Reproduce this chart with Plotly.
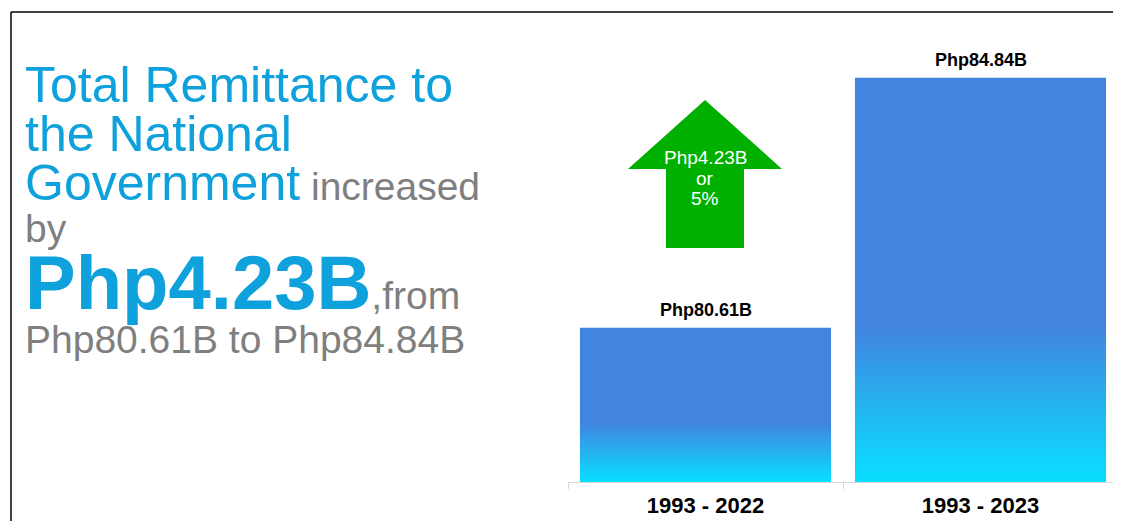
import plotly.graph_objects as go

# ---------------- data ----------------
categories = ["1993 - 2022", "1993 - 2023"]
remittance_b = [80.61, 84.84]          # Php billions
increase_b = 4.23
increase_pct = 5
axis_floor = 78.0
axis_ceiling = 85.48

# ---------------- style ----------------
BLUE = "#4185E0"
CYAN = "#08DFFF"
GREEN = "#00B000"
TITLE_BLUE = "#0EA1DC"
GRAY = "#7F7F7F"
AXIS_GRAY = "#D9D9D9"
FONT = "Liberation Sans, Arial, sans-serif"
BAR_W = 0.913

OFF = 8                      # page body margin
W, H = 1113, 513             # figure size
# plot area in page pixels: x 568..1118, y 40..482
L, T = 568 - OFF, 40 - OFF
R = W - (1118 - OFF)
B = H - (482 - OFF)
PW = W - L - R
PH = H - T - B


def px(x):
    """page pixel x -> paper"""
    return (x - OFF - L) / PW


def py(y):
    """page pixel y -> paper"""
    return (H - B - (y - OFF)) / PH


xs = list(range(len(categories)))

fig = go.Figure()

# base bars
fig.add_trace(go.Bar(
    x=xs, y=remittance_b, width=BAR_W,
    marker=dict(color=BLUE, line=dict(width=0)),
    hoverinfo="skip", showlegend=False,
))

# gradient overlay for each bar
for xi, v in zip(xs, remittance_b):
    x0, x1 = xi - BAR_W / 2, xi + BAR_W / 2
    fig.add_trace(go.Scatter(
        x=[x0, x1, x1, x0, x0], y=[axis_floor, axis_floor, v, v, axis_floor],
        fill="toself", mode="lines", line=dict(width=0),
        fillgradient=dict(type="vertical",
                          colorscale=[[0, CYAN], [0.38, BLUE], [1, BLUE]]),
        hoverinfo="skip", showlegend=False,
    ))

boundaries = [x - 0.5 for x in xs] + [xs[-1] + 0.5]

fig.update_xaxes(
    range=[xs[0] - 0.5, xs[-1] + 0.5],
    tickmode="array", tickvals=xs, ticktext=categories, ticks="",
    tickfont=dict(size=22, color="black", family=FONT, weight="bold"),
    ticklabelstandoff=4,
    showline=True, linecolor=AXIS_GRAY, linewidth=1,
    showgrid=False, zeroline=False,
    minor=dict(tickmode="array", tickvals=boundaries, ticks="outside",
               ticklen=6, tickcolor=AXIS_GRAY, tickwidth=1, showgrid=False),
)
fig.update_yaxes(range=[axis_floor, axis_ceiling], visible=False,
                 showgrid=False, zeroline=False)

shapes = []
# frame lines (top and left)
shapes.append(dict(type="line", xref="paper", yref="paper",
                   x0=px(11), y0=py(12), x1=px(1125), y1=py(12),
                   line=dict(color="black", width=1.5)))
shapes.append(dict(type="line", xref="paper", yref="paper",
                   x0=px(11), y0=py(12), x1=px(11), y1=py(525),
                   line=dict(color="black", width=1.5)))
# green up arrow
pts = [(705, 100), (782, 169), (744, 169), (744, 248),
       (666, 248), (666, 169), (628, 169)]
path = "M " + " L ".join(f"{px(a):.5f},{py(b):.5f}" for a, b in pts) + " Z"
shapes.append(dict(type="path", xref="paper", yref="paper", path=path,
                   fillcolor=GREEN, line=dict(width=0)))

ann = []

# value labels above bars (data coordinates)
for xi, v in zip(xs, remittance_b):
    ann.append(dict(text=f"Php{v:.2f}B", xref="x", yref="y", x=xi, y=v,
                    xanchor="center", yanchor="bottom", yshift=6,
                    showarrow=False,
                    font=dict(size=18, color="black", family=FONT, weight="bold")))


def add_text(text, x, yc, size, color, weight="normal", anchor="left"):
    ann.append(dict(text=text, xref="paper", yref="paper",
                    x=px(x), y=py(yc), xanchor=anchor, yanchor="middle",
                    showarrow=False,
                    font=dict(size=size, color=color, family=FONT, weight=weight)))


# left headline
add_text("Total Remittance to", 23, 85, 50, TITLE_BLUE)
add_text("the National", 23, 134, 50, TITLE_BLUE)
add_text(f'<span style="font-size:50px;fill:{TITLE_BLUE}">Government</span> increased',
         23, 183, 39, GRAY)
add_text("by", 23, 228.5, 39, GRAY)
add_text(f'<span style="font-size:76px;font-weight:bold;fill:{TITLE_BLUE}">'
         f'Php{increase_b:.2f}B</span>,from', 23, 282, 39, GRAY)
add_text(f"Php{remittance_b[0]:.2f}B to Php{remittance_b[1]:.2f}B",
         23, 339.5, 39, GRAY)

# arrow text
add_text(f"Php{increase_b:.2f}B", 705, 157.5, 19, "white", anchor="center")
add_text("or", 705, 178.5, 19, "white", anchor="center")
add_text(f"{increase_pct}%", 705, 198.5, 19, "white", anchor="center")

fig.update_layout(
    width=W, height=H, autosize=False,
    margin=dict(l=L, r=R, t=T, b=B, pad=0),
    paper_bgcolor="white", plot_bgcolor="white",
    font=dict(family=FONT),
    shapes=shapes, annotations=ann,
    bargap=0, showlegend=False,
)

fig.write_html("out.html")
